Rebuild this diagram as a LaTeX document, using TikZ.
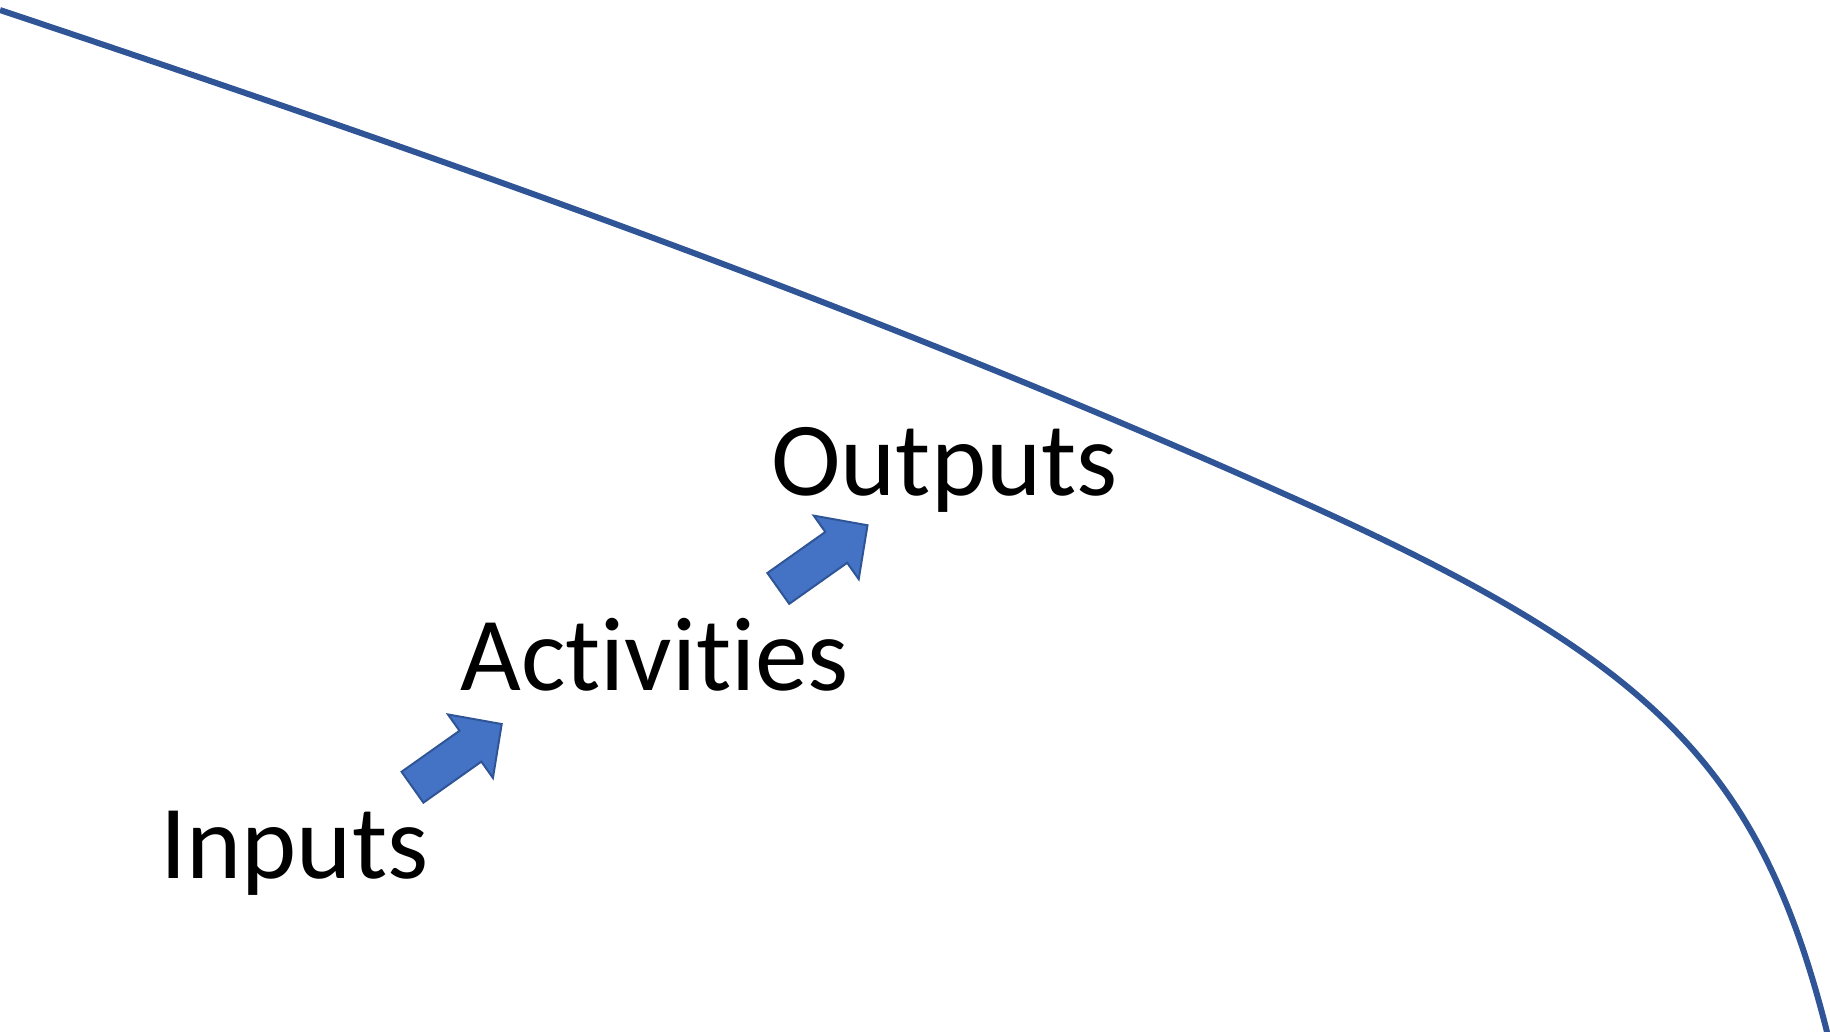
\documentclass[tikz,border=0pt]{standalone}
\usepackage{fontspec}
\setmainfont[Ligatures={NoCommon}]{Carlito}
\usetikzlibrary{positioning}
\definecolor{lineblue}{RGB}{47,85,151}
\definecolor{fillblue}{RGB}{68,114,196}

\begin{document}
\begin{tikzpicture}[x=1pt,y=-1pt,
		stage/.style={inner sep=0pt, anchor=base west, font=\fontsize{105}{126}\selectfont},
		blockarrow/.pic={
			\draw[draw=lineblue, fill=fillblue, line width=2pt, line join=miter]
				(0,-18.9) -- (71,-18.9) -- (71,-38.9) -- (109.3,0) -- (71,38.9) -- (71,18.9) -- (0,18.9) -- cycle;
		}]
		\useasboundingbox (0,0) rectangle (1830,1031);
		
		% the long curve
		\draw[lineblue, line width=6pt] (0,10) .. controls (433,155) and (867,306) .. (1300,501)
			.. controls (1655.6,661) and (1761,767) .. (1828,1036);
		
		\node[stage] (inputs) at (160,878) {Inputs};
		\node[stage] (activities) at (460,690) {Activities};
		\node[stage] (outputs) at (771,495) {Outputs};
		
		\pic[rotate=35.3] (inarrow) at (412.5,787.2) {blockarrow};
		\pic[rotate=35.3] (actarrow) at (778.3,588.4) {blockarrow};
		
		\end{tikzpicture}
\end{document}
